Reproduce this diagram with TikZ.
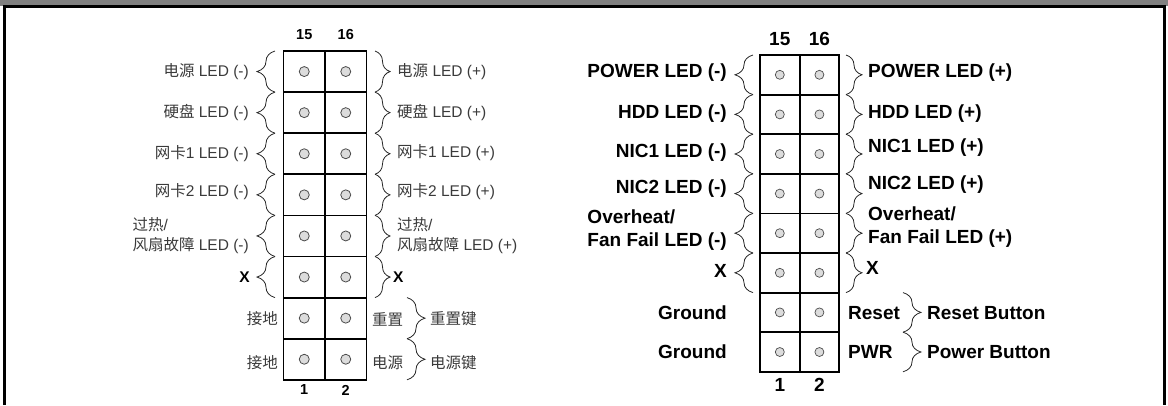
\documentclass[tikz,border=0pt]{standalone}
\usepackage{fontspec}
\setmainfont{Liberation Sans}
\newfontfamily\cjk{Noto Sans CJK SC}
\usetikzlibrary{decorations.pathreplacing,calc}
\definecolor{barg}{HTML}{808080}
\definecolor{labg}{HTML}{3A3A3A}
\definecolor{ping}{HTML}{DCDCDC}
\newcommand{\zhtxt}[1]{{\cjk #1}}
\begin{document}
\begin{tikzpicture}[x=1pt,y=-1pt,
  cellL/.style={draw, line width=1.8pt, minimum width=41.5pt, minimum height=41.1pt, inner sep=0pt, outer sep=0pt},
  cellR/.style={draw, line width=1.8pt, minimum width=39.6pt, minimum height=39.6pt, inner sep=0pt, outer sep=0pt},
  pinL/.style={circle, draw=black!70, fill=ping, line width=0.8pt, minimum size=10pt, inner sep=0pt},
  pinR/.style={circle, draw=black!70, fill=ping, line width=0.7pt, minimum size=9pt, inner sep=0pt},
  zlab/.style={inner sep=0pt, text=labg, font=\fontsize{15.5}{19.5}\selectfont},
  zx/.style={inner sep=0pt, text=black, font=\bfseries\fontsize{15.5}{19.5}\selectfont},
  elab/.style={inner sep=0pt, font=\bfseries\fontsize{19}{23.5}\selectfont},
  numL/.style={inner sep=0pt, font=\bfseries\fontsize{14.5}{17}\selectfont},
  numR/.style={inner sep=0pt, font=\bfseries\fontsize{19}{23}\selectfont},
  bracea/.style={decorate, decoration={brace, amplitude=18pt}, line width=0.8pt, draw=black!85},
  braceb/.style={decorate, decoration={brace, amplitude=15pt}, line width=0.8pt, draw=black!85},
  bracec/.style={decorate, decoration={brace, amplitude=16pt}, line width=0.8pt, draw=black!85}
]
\useasboundingbox (0,0) rectangle (1168,405);
% frame
\fill[barg] (0,0) rectangle (1168,5.6);
\draw[line width=2.6pt, line join=miter] (4.6,405) -- (4.6,6.4) -- (1164.4,6.4) -- (1164.4,405);

% ---------------- left (Chinese) header ----------------
\foreach \r in {1,...,8}{
  \foreach \c in {1,2}{
    \node[cellL] (L-\r-\c) at ({283.5+41.5*(\c-0.5)},{51+41.1*(\r-0.5)}) {};
  }
}
\foreach \r in {1,...,8}{
  \foreach \c in {1,2}{
    \node[pinL] (pL-\r-\c) at (L-\r-\c.center) {};
  }
}
\foreach \r in {1,...,6}{
  \draw[bracea] ($(L-\r-1.south west)+(-8.5,0)$) -- ($(L-\r-1.north west)+(-8.5,0)$);
  \draw[braceb] ($(L-\r-2.north east)+(8.5,0)$) -- ($(L-\r-2.south east)+(8.5,0)$);
}
\foreach \r in {7,8}{
  \draw[bracea] ($(L-\r-2.north east)+(40.5,0)$) -- ($(L-\r-2.south east)+(40.5,0)$);
}
\node[numL] (nL15) at (304.25,35) {15};
\node[numL] (nL16) at (345.75,35) {16};
\node[numL] (nL1) at (304.25,390) {1};
\node[numL] (nL2) at (345.75,390) {2};

\node[zlab, anchor=east] (zl1) at (249,71.7) {\zhtxt{电源} LED (-)};
\node[zlab, anchor=east] (zl2) at (249,112.7) {\zhtxt{硬盘} LED (-)};
\node[zlab, anchor=east] (zl3) at (249,153.3) {\zhtxt{网卡}1 LED (-)};
\node[zlab, anchor=east] (zl4) at (249,191.7) {\zhtxt{网卡}2 LED (-)};
\node[zlab, anchor=east, align=left] (zl5) at (249,235.5) {\zhtxt{过热}/\\\zhtxt{风扇故障} LED (-)};
\node[zx, anchor=east] (zl6) at (250,276.7) {X};
\node[zlab, anchor=east] (zl7) at (278,319) {\zhtxt{接地}};
\node[zlab, anchor=east] (zl8) at (278,363) {\zhtxt{接地}};

\node[zlab, anchor=west] (zr1) at (397,71.7) {\zhtxt{电源} LED (+)};
\node[zlab, anchor=west] (zr2) at (397,112.7) {\zhtxt{硬盘} LED (+)};
\node[zlab, anchor=west] (zr3) at (397,152.7) {\zhtxt{网卡}1 LED (+)};
\node[zlab, anchor=west] (zr4) at (397,191.7) {\zhtxt{网卡}2 LED (+)};
\node[zlab, anchor=west, align=left] (zr5) at (397,235.5) {\zhtxt{过热}/\\\zhtxt{风扇故障} LED (+)};
\node[zx, anchor=west] (zr6) at (393,276.7) {X};
\node[zlab, anchor=west] (zr7) at (372,319) {\zhtxt{重置}};
\node[zlab, anchor=west] (zr8) at (372,363) {\zhtxt{电源}};
\node[zlab, anchor=west] (zb7) at (430,319) {\zhtxt{重置键}};
\node[zlab, anchor=west] (zb8) at (430,363) {\zhtxt{电源键}};

% ---------------- right (English) header ----------------
\foreach \r in {1,...,8}{
  \foreach \c in {1,2}{
    \node[cellR] (R-\r-\c) at ({760+39.6*(\c-0.5)},{55+39.6*(\r-0.5)}) {};
  }
}
\foreach \r in {1,...,8}{
  \foreach \c in {1,2}{
    \node[pinR] (pR-\r-\c) at (R-\r-\c.center) {};
  }
}
\foreach \r in {1,...,6}{
  \draw[bracea] ($(R-\r-1.south west)+(-7,0)$) -- ($(R-\r-1.north west)+(-7,0)$);
  \draw[bracec] ($(R-\r-2.north east)+(6.8,0)$) -- ($(R-\r-2.south east)+(6.8,0)$);
}
\foreach \r in {7,8}{
  \draw[bracea] ($(R-\r-2.north east)+(63.8,0)$) -- ($(R-\r-2.south east)+(63.8,0)$);
}
\node[numR] (nR15) at (779.8,39) {15};
\node[numR] (nR16) at (819.4,39) {16};
\node[numR] (nR1) at (779.8,385) {1};
\node[numR] (nR2) at (819.4,385) {2};

\node[elab, anchor=east] (el1) at (727,72.7) {POWER LED (-)};
\node[elab, anchor=east] (el2) at (727,114) {HDD LED (-)};
\node[elab, anchor=east] (el3) at (727,153) {NIC1 LED (-)};
\node[elab, anchor=east] (el4) at (727,189) {NIC2 LED (-)};
\node[elab, anchor=east, align=left] (el5) at (727,230) {Overheat/\\Fan Fail LED (-)};
\node[elab, anchor=east] (el6) at (727,270.7) {X};
\node[elab, anchor=east] (el7) at (727,313) {Ground};
\node[elab, anchor=east] (el8) at (727,351.7) {Ground};

\node[elab, anchor=west] (er1) at (868,72.7) {POWER LED (+)};
\node[elab, anchor=west] (er2) at (868,114) {HDD LED (+)};
\node[elab, anchor=west] (er3) at (868,148) {NIC1 LED (+)};
\node[elab, anchor=west] (er4) at (868,185) {NIC2 LED (+)};
\node[elab, anchor=west, align=left] (er5) at (868,227) {Overheat/\\Fan Fail LED (+)};
\node[elab, anchor=west] (er6) at (866,268) {X};
\node[elab, anchor=west] (er7) at (848,313) {Reset};
\node[elab, anchor=west] (er8) at (848,351.7) {PWR};
\node[elab, anchor=west] (eb7) at (927,313) {Reset Button};
\node[elab, anchor=west] (eb8) at (927,351.7) {Power Button};
\end{tikzpicture}
\end{document}
